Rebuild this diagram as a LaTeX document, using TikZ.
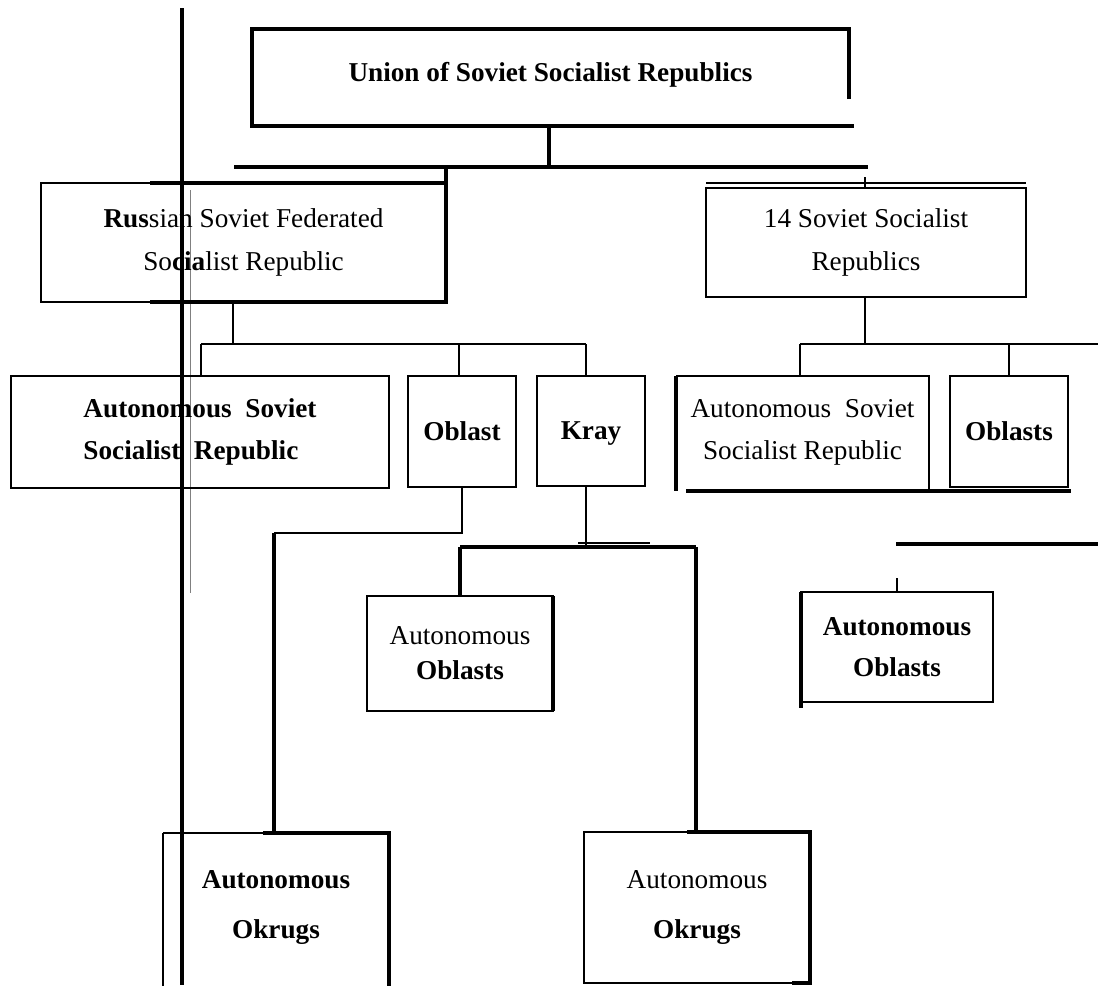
\documentclass[tikz,border=0pt]{standalone}
\usepackage{fontspec}
\setmainfont{Liberation Serif}
\usetikzlibrary{calc}
\tikzset{
  x=0.02cm, y=-0.02cm,
  thn/.style={line width=0.8pt},
  mid/.style={line width=1.3pt},
  thk/.style={line width=1.9pt},
  box/.style={draw, line width=0.8pt, inner sep=0pt, outer sep=0pt, align=center,
    font=\fontsize{15.5}{24}\selectfont},
  nobox/.style={box, draw=none},
}
\newcommand\pbox[7]{\node[#6, minimum width={(#4-#2)*0.02cm}, minimum height={(#5-#3)*0.02cm}] (#1) at ({(#2+#4)/2},{(#3+#5)/2}) {#7};}
\begin{document}
\begin{tikzpicture}
\useasboundingbox (0,0) rectangle (1098,985);
\fill[white] (0,0) rectangle (1098,985);

% stray scan lines
\coordinate (sT) at (182,8); \coordinate (sB) at (182,985);
\draw[thk] (sT) -- (sB);
\coordinate (gT) at (190,190); \coordinate (gB) at (190,593);
\draw[line width=0.5pt, gray] (gT) -- (gB);

% Union
\pbox{u}{252}{29}{849}{120}{nobox}{\textbf{Union of Soviet Socialist Republics}}
\coordinate (ub) at (549,126);
\draw[thk] ($(u.north east)+(0,70)$) -- (u.north east) -- (u.north west) -- (u.north west |- ub) -- ($(u.north east |- ub)+(5,0)$);
\coordinate (b1L) at (234,167); \coordinate (b1R) at (868,167);
\draw[thk] (b1L) -- (b1R);
\draw[thk] (ub) -- (ub |- b1L);

% RSFSR
\pbox{r}{41}{183}{446}{302}{box}{\textbf{Rus}sian Soviet Federated\\So\textbf{cia}list Republic}
\draw[thk] ($(r.north west)+(109,0)$) -- (r.north east) -- (r.south east) -- ($(r.south west)+(109,0)$);
\draw[thk] (r.north east) -- (r.north east |- b1L);

% 14 SSR
\pbox{s}{706}{188}{1026}{297}{box}{14 Soviet Socialist\\Republics}
\draw[mid] (s.north west) -- (s.north east);
\draw[thn] ($(s.north west)+(0,-5)$) -- ($(s.north east)+(0,-5)$);
\coordinate (t14) at (865,177);
\draw[thn] (t14) -- (t14 |- s.north);

% RSFSR children
\coordinate (rd) at (233,344);
\draw[thn] (rd |- r.south) -- (rd);
\coordinate (b2L) at (201,344); \coordinate (b2R) at (586,344);
\draw[thn] (b2L) -- (b2R);
\pbox{a1}{11}{376}{389}{488}{box, align=left}{\textbf{Autonomous\ \ Soviet}\\\textbf{Socialist\ \ Republic}}
\draw[thn] (b2L) -- (b2L |- a1.north);
\pbox{ob}{408}{376}{516}{487}{box}{\textbf{Oblast}}
\coordinate (j1) at (459,344);
\draw[thn] (j1) -- (j1 |- ob.north);
\pbox{kr}{537}{376}{645}{486}{box}{\textbf{Kra\smash{y}}}
\draw[thn] (b2R) -- (b2R |- kr.north);

% 14 SSR children
\coordinate (sd) at (865,344);
\draw[thn] (s.south -| sd) -- (sd);
\coordinate (b3L) at (800,344); \coordinate (b3R) at (1098,344);
\draw[thn] (b3L) -- (b3R);
\pbox{a2}{676}{376}{929}{489}{nobox}{Autonomous\ \ Soviet\\Socialist Republic}
\draw[thn] (a2.south east) -- (a2.north east) -- (a2.north west);
\draw[thk] (a2.north west) -- ($(a2.south west)+(0,2)$);
\coordinate (bb1) at (686,491); \coordinate (bb2) at (1071,491);
\draw[thk] (bb1) -- (bb2);
\draw[thn] (b3L) -- (b3L |- a2.north);
\pbox{obs}{950}{376}{1068}{487}{box}{\textbf{Oblasts}}
\coordinate (j2) at (1009,344);
\draw[thn] (j2) -- (j2 |- obs.north);

% Oblast -> Autonomous Okrugs
\coordinate (oc) at (274,533);
\draw[thn] (ob.south) -- (ob.south |- oc) -- (oc);
\pbox{ok1}{163}{833}{389}{982}{nobox, font=\fontsize{15.5}{28}\selectfont}{\textbf{Autonomous}\\\textbf{Okrugs}}
\draw[mid] ($(ok1.south west)+(0,5)$) -- (ok1.north west);
\draw[thn] (ok1.north west) -- ($(ok1.north west)+(100,0)$);
\draw[thk] ($(ok1.north west)+(100,0)$) -- (ok1.north east) -- ($(ok1.south east)+(0,5)$);
\draw[thk] (oc) -- (oc |- ok1.north);

% Kray -> Autonomous Oblasts, Autonomous Okrugs
\coordinate (kc) at (586,547);
\draw[thn] (b2R |- kr.south) -- (kc);
\coordinate (k1) at (460,547); \coordinate (k2) at (696,547);
\draw[thk] (k1) -- (k2);
\coordinate (k3) at (578,543); \coordinate (k4) at (650,543);
\draw[thn] (k3) -- (k4);
\pbox{ao1}{367}{596}{553}{711}{box, font=\fontsize{15.5}{20}\selectfont}{Autonomous\\\textbf{Oblasts}}
\draw[thk] (k1) -- (k1 |- ao1.north);
\draw[thk] (ao1.north east) -- (ao1.south east);
\pbox{ok2}{584}{832}{810}{983}{box, font=\fontsize{15.5}{28}\selectfont}{Autonomous\\\textbf{Okrugs}}
\draw[thk] (k2) -- (k2 |- ok2.north);
\draw[thk] ($(ok2.north west)+(103,0)$) -- (ok2.north east) -- (ok2.south east) -- ($(ok2.south east)+(-18,0)$);

% right Autonomous Oblasts
\coordinate (rl1) at (896,544); \coordinate (rl2) at (1098,544);
\draw[thk] (rl1) -- (rl2);
\pbox{ao2}{801}{592}{993}{702}{box, font=\fontsize{15.5}{23}\selectfont}{\textbf{Autonomous}\\\textbf{Oblasts}}
\coordinate (t2) at (897,578);
\draw[thn] (t2) -- (t2 |- ao2.north);
\draw[thk] (ao2.north west) -- ($(ao2.south west)+(0,6)$);
\end{tikzpicture}
\end{document}
